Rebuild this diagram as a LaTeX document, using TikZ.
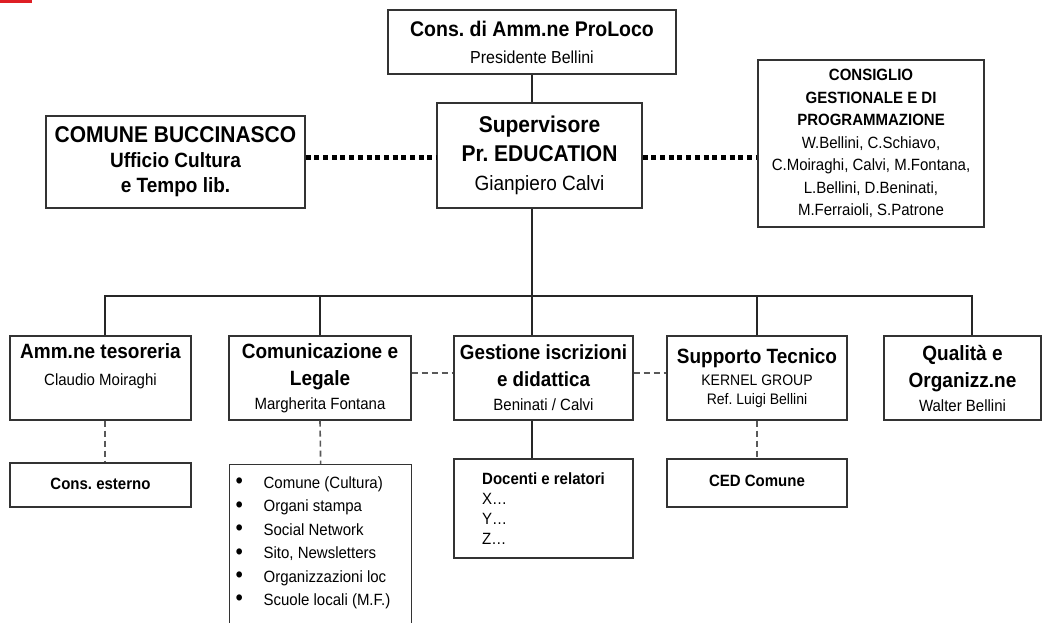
\documentclass[tikz,border=0pt]{standalone}
\usepackage{fontspec}
\setmainfont{Liberation Sans}[FakeStretch=0.92]
\definecolor{markred}{RGB}{222,30,36}
\newcommand\fs[2]{\fontsize{\fpeval{#1*1.087}}{#2}\selectfont}
\newcommand\itm{\hspace*{6pt}\makebox[28pt][l]{\raisebox{-0.5pt}{\fs{21}{23.4}\textbullet}}}

\begin{document}
\frenchspacing
\begin{tikzpicture}[x=1pt,y=-1pt,
    box/.style={draw=black!80, line width=1.3pt, align=center, inner sep=0pt},
    link/.style={draw=black!85, line width=1.8pt},
    dashline/.style={draw=black!65, line width=1.6pt, dash pattern=on 6pt off 4pt},
    dotline/.style={draw=black, line width=5pt, dash pattern=on 5pt off 3.7pt}]
  \path[clip] (0,0) rectangle (1042,622);
  \fill[markred] (0,0) rectangle (32,3);

  \node[box, minimum width=288pt, minimum height=64pt, font=\fs{19.5}{27}\bfseries]
    (proloco) at (532,42) {Cons. di Amm.ne ProLoco\\{\fs{16}{27}\mdseries Presidente Bellini}};
  \node[box, minimum width=205pt, minimum height=105pt, font=\fs{21}{29}\bfseries]
    (sup) at (539.5,155.5) {Supervisore\\Pr. EDUCATION\\{\fs{19}{29}\mdseries Gianpiero Calvi}};
  \node[box, minimum width=259pt, minimum height=92pt, font=\fs{19}{25}\bfseries]
    (comune) at (175.5,162) {{\fs{21}{25}COMUNE BUCCINASCO}\\Ufficio Cultura\\e Tempo lib.};
  \node[box, minimum width=226pt, minimum height=167pt, font=\fs{15}{22.5}]
    (cgp) at (871,143.5) {\textbf{CONSIGLIO}\\\textbf{GESTIONALE E DI}\\\textbf{PROGRAMMAZIONE}\\
      W.Bellini, C.Schiavo,\\C.Moiraghi, Calvi, M.Fontana,\\L.Bellini, D.Beninati,\\M.Ferraioli, S.Patrone};

  \node[box, minimum width=181pt, minimum height=84pt, font=\fs{19}{27}\bfseries]
    (teso) at (100.5,378) {Amm.ne tesoreria\\{\fs{15}{27}\mdseries Claudio Moiraghi}\\~};
  \node[box, minimum width=182pt, minimum height=84pt, font=\fs{19}{27}\bfseries]
    (com) at (320,378) {Comunicazione e\\Legale\\[-3pt]{\fs{15}{27}\mdseries Margherita Fontana}};
  \node[box, minimum width=179pt, minimum height=84pt, font=\fs{18.8}{27}\bfseries]
    (gest) at (543.5,378) {Gestione iscrizioni\\e didattica\\[-3pt]{\fs{15}{27}\mdseries Beninati / Calvi}};
  \node[box, minimum width=180pt, minimum height=84pt, font=\fs{19}{27}\bfseries]
    (tec) at (757,378) {Supporto Tecnico\\[-5pt]{\fs{14}{27}\mdseries KERNEL GROUP}\\[-8pt]{\fs{14}{27}\mdseries Ref. Luigi Bellini}};
  \node[box, minimum width=157pt, minimum height=84pt, font=\fs{19}{27}\bfseries]
    (qual) at (962.5,378) {Qualità e\\Organizz.ne\\[-3pt]{\fs{15}{27}\mdseries Walter Bellini}};

  \node[box, minimum width=181pt, minimum height=44pt, font=\fs{15}{18}\bfseries]
    (est) at (100.5,485) {\raisebox{3pt}{Cons. esterno}};
  \node[box, anchor=north west] (list) at (229,464) {\parbox[t][170pt][t]{182pt}{\fs{15}{23.4}%
      \vspace*{12pt}\raggedright
      \itm Comune (Cultura)\\
      \itm Organi stampa\\
      \itm Social Network\\
      \itm Sito, Newsletters\\
      \itm Organizzazioni loc\\
      \itm Scuole locali (M.F.)}};
  \node[box, align=left, minimum width=179pt, minimum height=99pt, font=\fs{15}{20}]
    (doc) at (543.5,508.5) {\textbf{Docenti e relatori}\\X\ldots\\Y\ldots\\Z\ldots};
  \node[box, minimum width=180pt, minimum height=48pt, font=\fs{15}{18}\bfseries]
    (ced) at (757,483) {\raisebox{4pt}{CED Comune}};

  \coordinate (bus) at (532,296);
  \coordinate (b1) at (105,296);
  \coordinate (b5) at (972,296);
  \coordinate (dl) at (0,157);
  \draw[link] (proloco.south) -- (proloco.south |- sup.north);
  \draw[link] (bus |- sup.south) -- (bus) -- (bus |- gest.north);
  \draw[link] (b1 |- teso.north) -- (b1) -- (b5) -- (b5 |- qual.north);
  \draw[link] (com.north) -- (com.north |- bus);
  \draw[link] (tec.north) -- (tec.north |- bus);
  \draw[link] (bus |- gest.south) -- (bus |- doc.north);

  \draw[dotline] (comune.east |- dl) -- (sup.west |- dl);
  \draw[dotline] (sup.east |- dl) -- (cgp.west |- dl);

  \draw[dashline] (b1 |- teso.south) -- (b1 |- est.north);
  \draw[dashline] (com.south) -- (list.north);
  \draw[dashline] (tec.south) -- (ced.north);
  \draw[dashline] ([yshift=5pt]com.east) -- ([yshift=5pt]gest.west);
  \draw[dashline] ([yshift=5pt]gest.east) -- ([yshift=5pt]tec.west);
\end{tikzpicture}
\end{document}
